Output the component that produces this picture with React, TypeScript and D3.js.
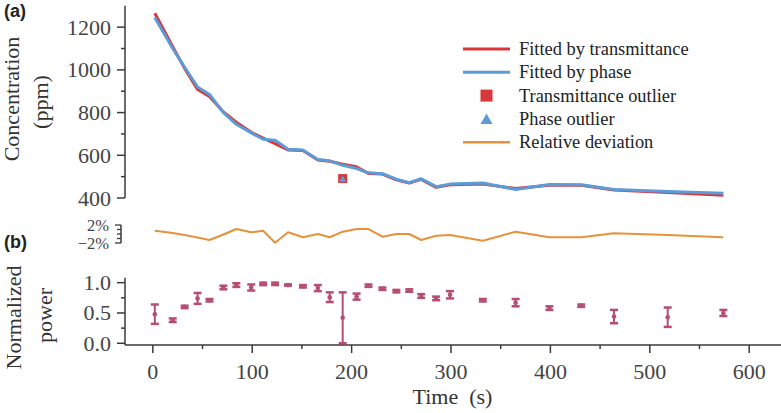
import React from "react";
import * as d3 from "d3";

const times = [2, 20, 32, 45, 57, 71, 84, 99, 111, 123, 136, 151, 166, 178, 191, 205, 217, 231, 245, 258, 270, 285, 299, 332, 365, 399, 431, 464, 518, 574];
const concTransmittance = [1265, 1108, 1007, 908, 875, 803, 755, 708, 680, 655, 625, 622, 578, 572, 558, 546, 515, 512, 485, 470, 487, 450, 462, 465, 445, 460, 460, 437, 426, 413];
const concPhase = [1245, 1100, 1012, 920, 885, 800, 745, 705, 675, 671, 628, 625, 580, 574, 553, 538, 518, 514, 488, 472, 490, 453, 465, 470, 440, 463, 462, 440, 430, 422];
const deviation = [0.73, 0.22, -0.22, -0.78, -1.33, -0.11, 1.11, 0.38, 0.73, -1.93, 0.38, -0.73, 0, -0.73, 0.51, 1.11, 1.11, -0.6, 0, 0, -1.33, -0.38, -0.22, -1.49, 0.51, -0.73, -0.73, 0.16, -0.22, -0.73];
const power = [0.48, 0.38, 0.6, 0.74, 0.71, 0.92, 0.96, 0.92, 0.98, 0.98, 0.96, 0.94, 0.91, 0.76, 0.42, 0.77, 0.95, 0.9, 0.86, 0.87, 0.78, 0.74, 0.8, 0.71, 0.67, 0.58, 0.62, 0.44, 0.43, 0.5];
const powerErr = [0.16, 0.03, 0.02, 0.09, 0.02, 0.03, 0.03, 0.05, 0.02, 0.02, 0.01, 0.02, 0.05, 0.08, 0.42, 0.05, 0.02, 0.02, 0.02, 0.02, 0.03, 0.03, 0.06, 0.02, 0.06, 0.03, 0.02, 0.11, 0.16, 0.05];
const outlierTime = [191];
const outlierConc = [491];

const concTicks = [400, 600, 800, 1000, 1200];
const concMinor = [500, 700, 900, 1100];
const powerTicks = [0, 0.5, 1.0];
const powerMinor = [0.25, 0.75];
const timeTicks = [0, 100, 200, 300, 400, 500, 600];
const timeMinor = [50, 150, 250, 350, 450, 550];
const devTicks = [-2, -1, 0, 1, 2];

const legendLabels = ["Fitted by transmittance", "Fitted by phase", "Transmittance outlier", "Phase outlier", "Relative deviation"];

const RED = "#d8383a";
const BLUE = "#5b9bd8";
const ORANGE = "#e8913c";
const BAR = "#a9305a";
const AX = "#3a3a3a";
const SERIF = "Liberation Serif, Tinos, Times New Roman, Times, DejaVu Serif, serif";

export default function App() {
  const x = d3.scaleLinear().domain([-28, 632]).range([125, 781]);
  const yc = d3.scaleLinear().domain([400, 1300]).range([198, 5.8]);
  const yd = d3.scaleLinear().domain([-2, 2]).range([243, 225]);
  const yp = d3.scaleLinear().domain([-0.03, 1.08]).range([345.1, 277.8]);

  const redPath = d3.line<number>().x((_, i) => x(times[i])).y((d) => yc(d))(concTransmittance) || "";
  const bluePath = d3.line<number>().x((_, i) => x(times[i])).y((d) => yc(d))(concPhase) || "";
  const devPath = d3.line<number>().x((_, i) => x(times[i])).y((d) => yd(d))(deviation) || "";

  const tickText = { fontFamily: SERIF, fontSize: 22, fill: "#444" } as const;
  const titleText = { fontFamily: SERIF, fontSize: 22, fill: "#333" } as const;

  const legendY = (i: number) => 49 + i * 23.3;
  const tri = (cx: number, cy: number, s: number) =>
    `M${cx},${cy - s * 0.6}L${cx + s * 0.6},${cy + s * 0.45}L${cx - s * 0.6},${cy + s * 0.45}Z`;

  return (
    <svg width={781} height={413} style={{ position: "absolute", left: 0, top: 0, background: "#fff" }}>
      {/* panel labels */}
      <text x={4} y={17} fontFamily="Liberation Sans, Arial, sans-serif" fontWeight="bold" fontSize={18} fill="#222">(a)</text>
      <text x={4} y={248} fontFamily="Liberation Sans, Arial, sans-serif" fontWeight="bold" fontSize={18} fill="#222">(b)</text>

      {/* upper y axis */}
      <line x1={125} x2={125} y1={yc(1300)} y2={yc(400)} stroke={AX} strokeWidth={1.5} />
      {concTicks.map((t) => (
        <g key={"ct" + t}>
          <line x1={117} x2={125} y1={yc(t)} y2={yc(t)} stroke={AX} strokeWidth={1.5} />
          <text x={111} y={yc(t) + 7.5} textAnchor="end" {...tickText}>{t}</text>
        </g>
      ))}
      {concMinor.map((t) => (
        <line key={"cm" + t} x1={121} x2={125} y1={yc(t)} y2={yc(t)} stroke={AX} strokeWidth={1.5} />
      ))}
      <text transform="translate(19,99) rotate(-90)" textAnchor="middle" {...titleText}>Concentration</text>
      <text transform="translate(48,102) rotate(-90)" textAnchor="middle" {...titleText}>(ppm)</text>

      {/* concentration lines */}
      <path d={redPath} fill="none" stroke={RED} strokeWidth={3} strokeLinejoin="round" />
      <path d={bluePath} fill="none" stroke={BLUE} strokeWidth={3} strokeLinejoin="round" />

      {/* outliers */}
      {outlierTime.map((t, i) => (
        <g key={"o" + i}>
          <rect x={x(t) - 4.5} y={yc(outlierConc[i]) - 4.5} width={9} height={9} fill={RED} />
          <path d={tri(x(t), yc(outlierConc[i]) + 0.5, 6)} fill={BLUE} />
        </g>
      ))}

      {/* legend */}
      <line x1={463} x2={510} y1={legendY(0)} y2={legendY(0)} stroke={RED} strokeWidth={3} />
      <line x1={463} x2={510} y1={legendY(1)} y2={legendY(1)} stroke={BLUE} strokeWidth={3} />
      <rect x={486.5 - 6} y={legendY(2) - 6} width={12} height={12} fill={RED} />
      <path d={tri(486.5, legendY(3) + 0.5, 10)} fill={BLUE} />
      <line x1={463} x2={510} y1={legendY(4)} y2={legendY(4)} stroke={ORANGE} strokeWidth={2.5} />
      {legendLabels.map((l, i) => (
        <text key={l} x={519} y={legendY(i) + 6} fontFamily={SERIF} fontSize={18.4} fill="#222">{l}</text>
      ))}

      {/* deviation axis */}
      <line x1={121} x2={121} y1={yd(2)} y2={yd(-2)} stroke={AX} strokeWidth={1.5} />
      {devTicks.map((t) => (
        <line key={"dt" + t} x1={Math.abs(t) === 2 ? 115 : 117} x2={121} y1={yd(t)} y2={yd(t)} stroke={AX} strokeWidth={1.3} />
      ))}
      <text x={109} y={yd(2) + 6} textAnchor="end" {...tickText} fontSize={16.5}>2%</text>
      <text x={109} y={yd(-2) + 6} textAnchor="end" {...tickText} fontSize={16.5}>−2%</text>
      <path d={devPath} fill="none" stroke={ORANGE} strokeWidth={2} strokeLinejoin="round" />

      {/* lower axes */}
      <line x1={125} x2={125} y1={yp(1.08)} y2={yp(-0.03)} stroke={AX} strokeWidth={1.5} />
      {powerTicks.map((t) => (
        <g key={"pt" + t}>
          <line x1={117} x2={125} y1={yp(t)} y2={yp(t)} stroke={AX} strokeWidth={1.5} />
          <text x={111} y={yp(t) + 7.5} textAnchor="end" {...tickText}>{t.toFixed(1)}</text>
        </g>
      ))}
      {powerMinor.map((t) => (
        <line key={"pm" + t} x1={121} x2={125} y1={yp(t)} y2={yp(t)} stroke={AX} strokeWidth={1.5} />
      ))}
      <line x1={125} x2={781} y1={yp(-0.03)} y2={yp(-0.03)} stroke={AX} strokeWidth={1.5} />
      {timeTicks.map((t) => (
        <g key={"tt" + t}>
          <line x1={x(t)} x2={x(t)} y1={yp(-0.03)} y2={yp(-0.03) + 8} stroke={AX} strokeWidth={1.5} />
          <text x={x(t)} y={379} textAnchor="middle" {...tickText}>{t}</text>
        </g>
      ))}
      {timeMinor.map((t) => (
        <line key={"tm" + t} x1={x(t)} x2={x(t)} y1={yp(-0.03)} y2={yp(-0.03) + 4} stroke={AX} strokeWidth={1.5} />
      ))}
      <text x={452.5} y={404} textAnchor="middle" {...titleText} style={{ whiteSpace: "pre" }}>{"Time  (s)"}</text>
      <text transform="translate(21,317.5) rotate(-90)" textAnchor="middle" {...titleText}>Normalized</text>
      <text transform="translate(52,315.5) rotate(-90)" textAnchor="middle" {...titleText}>power</text>

      {/* error bars */}
      {times.map((t, i) => {
        const cx = x(t);
        const top = yp(power[i] + powerErr[i]);
        const bot = yp(power[i] - powerErr[i]);
        return (
          <g key={"eb" + i} stroke={BAR} strokeWidth={2} opacity={0.85}>
            <line x1={cx} x2={cx} y1={top} y2={bot} />
            <line x1={cx - 4} x2={cx + 4} y1={top} y2={top} strokeWidth={2.5} />
            <line x1={cx - 4} x2={cx + 4} y1={bot} y2={bot} strokeWidth={2.5} />
            <circle cx={cx} cy={yp(power[i])} r={2.3} fill={BAR} stroke="none" />
          </g>
        );
      })}
    </svg>
  );
}
